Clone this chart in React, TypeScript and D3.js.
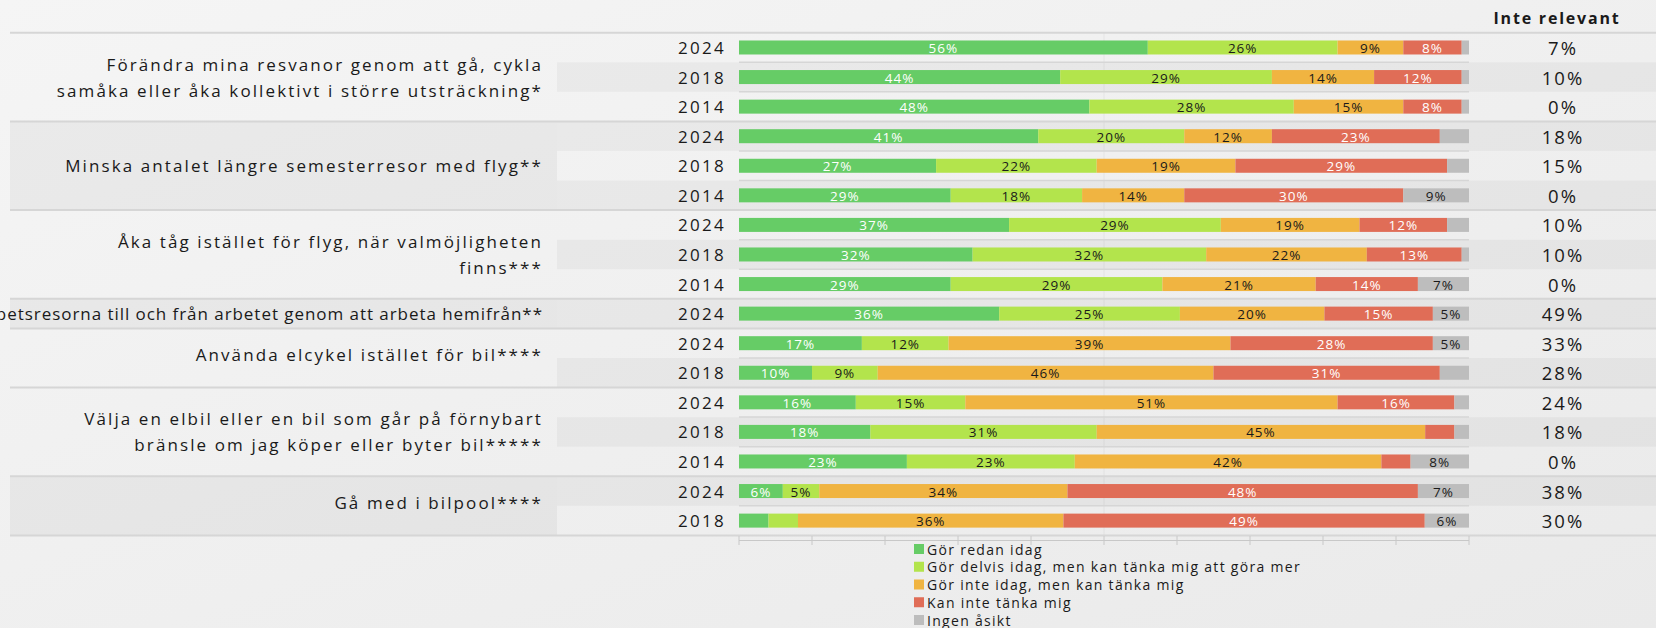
import React from 'react';
import * as d3 from 'd3';

// group labels (one or two lines each)
const categories: string[][] = [
    ['Förändra mina resvanor genom att gå, cykla', 'samåka eller åka kollektivt i större utsträckning*'],
    ['Minska antalet längre semesterresor med flyg**'],
    ['Åka tåg istället för flyg, när valmöjligheten', 'finns***'],
    ['Minska arbetsresorna till och från arbetet genom att arbeta hemifrån**'],
    ['Använda elcykel istället för bil****'],
    ['Välja en elbil eller en bil som går på förnybart', 'bränsle om jag köper eller byter bil*****'],
    ['Gå med i bilpool****'],
];
const groupYears: string[][] = [
    ['2024', '2018', '2014'],
    ['2024', '2018', '2014'],
    ['2024', '2018', '2014'],
    ['2024'],
    ['2024', '2018'],
    ['2024', '2018', '2014'],
    ['2024', '2018'],
];

const series = [
    'Gör redan idag',
    'Gör delvis idag, men kan tänka mig att göra mer',
    'Gör inte idag, men kan tänka mig',
    'Kan inte tänka mig',
    'Ingen åsikt',
];
const colors = ['#66cc66', '#b3e44c', '#f0b441', '#e06d57', '#bdbdbd'];
const labelColors = ['#ffffff', '#1a1a1a', '#1a1a1a', '#ffffff', '#1a1a1a'];

// one value per row (rows in order of groups / years)
const gorRedan = [56, 44, 48, 41, 27, 29, 37, 32, 29, 36, 17, 10, 16, 18, 23, 6, 4];
const gorDelvis = [26, 29, 28, 20, 22, 18, 29, 32, 29, 25, 12, 9, 15, 31, 23, 5, 4];
const gorInte = [9, 14, 15, 12, 19, 14, 19, 22, 21, 20, 39, 46, 51, 45, 42, 34, 36];
const kanInte = [8, 12, 8, 23, 29, 30, 12, 13, 14, 15, 28, 31, 16, 4, 4, 48, 49];
const ingenAsikt = [1, 1, 1, 4, 3, 9, 3, 1, 7, 5, 5, 4, 2, 2, 8, 7, 6];
const inteRelevant = [7, 10, 0, 18, 15, 0, 10, 10, 0, 49, 33, 28, 24, 18, 0, 38, 30];

const W = 1656;
const H = 628;
const FONT = '"Open Sans", "DejaVu Sans", sans-serif';

const App: React.FC = () => {
    const values = [gorRedan, gorDelvis, gorInte, kanInte, ingenAsikt];
    const nRows = gorRedan.length;
    const rows = d3.range(nRows);

    const x = d3.scaleLinear().domain([0, 100]).range([739, 1469]);
    const y = d3.scaleBand<number>().domain(rows).range([32.7, 535.4]);
    const bw = y.bandwidth();
    const barH = 14;

    // stacked segments, normalised per row
    const stacked = rows.map((r) => {
        const total = d3.sum(values, (s) => s[r]);
        let acc = 0;
        return values.map((s, k) => {
            const v = s[r];
            const x0 = (acc / total) * 100;
            acc += v;
            return { k, v, x0, x1: (acc / total) * 100 };
        });
    });

    // group -> first row
    const groupStarts: number[] = [];
    let acc = 0;
    groupYears.forEach((g) => {
        groupStarts.push(acc);
        acc += g.length;
    });
    const years = groupYears.flat();

    const legendX = 914;
    const legendY = d3.scalePoint<number>().domain(d3.range(series.length)).range([549, 620]);

    return (
        <div style={{ position: 'absolute', left: 0, top: 0 }}>
            <svg width={W} height={H} style={{ display: 'block', fontFamily: FONT }}>
                <defs>
                    <linearGradient id="bg" x1="0" y1="0" x2="1" y2="1">
                        <stop offset="0%" stopColor="#f5f5f5" />
                        <stop offset="100%" stopColor="#eaeaea" />
                    </linearGradient>
                </defs>
                <rect width={W} height={H} fill="url(#bg)" />

                {/* group label bands */}
                {groupYears.map((g, gi) => {
                    const s = groupStarts[gi];
                    const y0 = y(s)!;
                    const y1 = y(s + g.length - 1)! + bw;
                    return s % 2 === 1 ? (
                        <rect key={'gb' + gi} x={10} y={y0} width={547} height={y1 - y0} fill="#000" fillOpacity={0.04} />
                    ) : null;
                })}

                {/* row bands */}
                {rows.map((r) =>
                    r % 2 === 1 ? (
                        <rect key={'rb' + r} x={557} y={y(r)!} width={W - 557} height={bw} fill="#000" fillOpacity={0.035} />
                    ) : null
                )}

                {/* 50% line */}
                <line x1={x(50)} x2={x(50)} y1={y(0)!} y2={y(nRows - 1)! + bw} stroke="#000" strokeOpacity={0.05} />

                {/* row separators */}
                {rows.slice(1).map((r) =>
                    groupStarts.includes(r) ? null : (
                        <line key={'rs' + r} x1={x(0)} x2={x(100)} y1={y(r)!} y2={y(r)!} stroke="#d6d6d6" strokeWidth={1.5} />
                    )
                )}

                {/* group separators */}
                {[...groupStarts, nRows].map((s, i) => {
                    const yy = s < nRows ? y(s)! : y(nRows - 1)! + bw;
                    return <line key={'gs' + i} x1={10} x2={W} y1={yy} y2={yy} stroke="#d6d6d6" strokeWidth={2} />;
                })}

                {/* group labels */}
                {categories.map((lines, gi) => {
                    const s = groupStarts[gi];
                    const n = groupYears[gi].length;
                    const cy = (y(s)! + y(s + n - 1)! + bw) / 2 - (n === 2 ? 3 : 0);
                    const lh = 26;
                    return lines.map((t, li) => (
                        <text
                            key={'gl' + gi + '-' + li}
                            x={543}
                            y={cy + (li - (lines.length - 1) / 2) * lh}
                            textAnchor="end"
                            dominantBaseline="central"
                            fontSize={17}
                            letterSpacing={t.length > 60 ? 0.95 : 2.1}
                            fill="#1a1a1a"
                        >
                            {t}
                        </text>
                    ));
                })}

                {/* years */}
                {years.map((yr, r) => (
                    <text
                        key={'yr' + r}
                        x={726}
                        y={y(r)! + bw / 2}
                        textAnchor="end"
                        dominantBaseline="central"
                        fontSize={17}
                        letterSpacing={2.3}
                        fill="#1a1a1a"
                    >
                        {yr}
                    </text>
                ))}

                {/* bars */}
                {stacked.map((segs, r) => (
                    <g key={'bar' + r}>
                        {segs.map((d) => (
                            <rect
                                key={d.k}
                                x={x(d.x0)}
                                y={y(r)! + (bw - barH) / 2}
                                width={Math.max(0, x(d.x1) - x(d.x0))}
                                height={barH}
                                fill={colors[d.k]}
                            />
                        ))}
                        {segs.map((d) =>
                            d.v >= 5 ? (
                                <text
                                    key={'t' + d.k}
                                    x={(x(d.x0) + x(d.x1)) / 2}
                                    y={y(r)! + bw / 2 + 0.5}
                                    textAnchor="middle"
                                    dominantBaseline="central"
                                    fontSize={13.5}
                                    letterSpacing={1}
                                    fill={labelColors[d.k]}
                                >
                                    {d.v + '%'}
                                </text>
                            ) : null
                        )}
                    </g>
                ))}

                {/* Inte relevant column */}
                <text x={1557} y={18} textAnchor="middle" dominantBaseline="central" fontSize={16} fontWeight="bold" letterSpacing={1.8} fill="#1a1a1a">
                    Inte relevant
                </text>
                {inteRelevant.map((v, r) => (
                    <text
                        key={'ir' + r}
                        x={1563}
                        y={y(r)! + bw / 2}
                        textAnchor="middle"
                        dominantBaseline="central"
                        fontSize={18.5}
                        letterSpacing={2}
                        fill="#1a1a1a"
                    >
                        {v + '%'}
                    </text>
                ))}

                {/* x axis (no labels) */}
                <g>
                    <line x1={x(0)} x2={x(100)} y1={540.5} y2={540.5} stroke="#c8c8c8" />
                    {x.ticks(10).map((t) => (
                        <line key={'tk' + t} x1={x(t)} x2={x(t)} y1={536} y2={545} stroke="#c8c8c8" />
                    ))}
                </g>

                {/* legend */}
                {series.map((s, i) => (
                    <g key={'lg' + i} transform={`translate(${legendX},${legendY(i)})`}>
                        <rect x={0} y={-5} width={10} height={10} fill={colors[i]} />
                        <text x={13} y={0} dominantBaseline="central" fontSize={14} letterSpacing={1.3} fill="#1a1a1a">
                            {s}
                        </text>
                    </g>
                ))}
            </svg>
        </div>
    );
};

export default App;
